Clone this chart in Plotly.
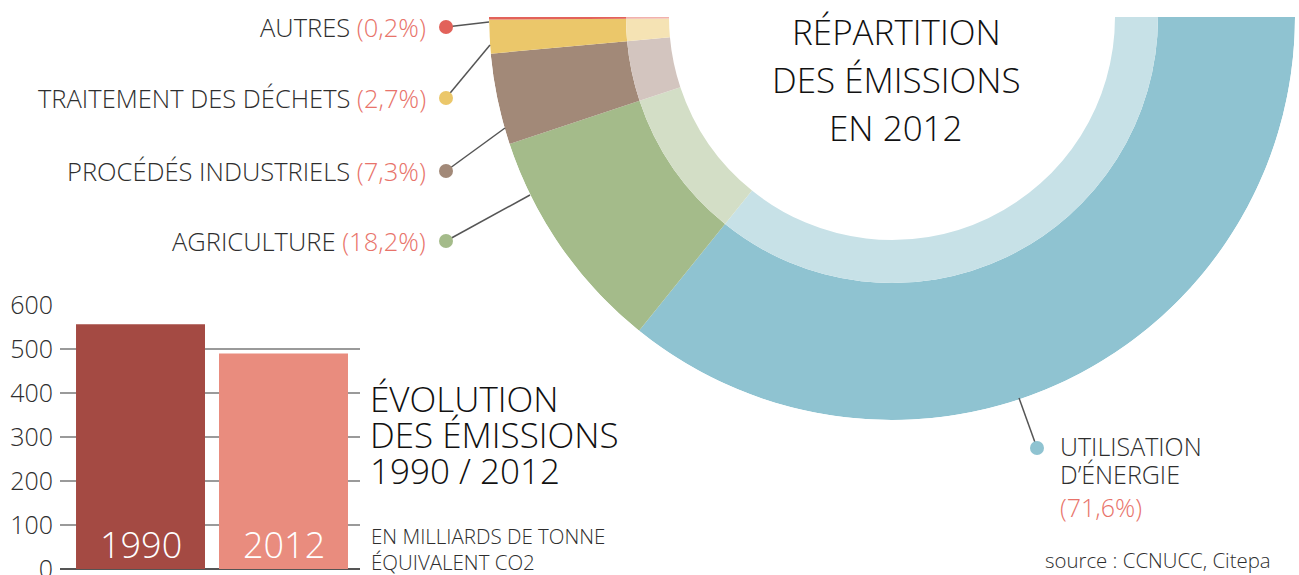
import plotly.graph_objects as go

# ---------------- data ----------------
sectors = ["UTILISATION D’ÉNERGIE", "AGRICULTURE", "PROCÉDÉS INDUSTRIELS",
           "TRAITEMENT DES DÉCHETS", "AUTRES"]
shares = [71.6, 18.2, 7.3, 2.7, 0.2]
share_labels = ["(71,6%)", "(18,2%)", "(7,3%)", "(2,7%)", "(0,2%)"]
dark_colors = ["#8FC3D1", "#A4BB8A", "#A28978", "#EBC76A", "#E2625A"]
light_colors = ["#C7E1E7", "#D3DEC6", "#D3C5BF", "#F5E3B4", "#F1B1AC"]

years = ["1990", "2012"]
emissions = [556, 490]
bar_colors = ["#A44A43", "#E98C7E"]
yticks = [0, 100, 200, 300, 400, 500, 600]

W, H = 1299, 575
FONT = "Open Sans"
SALMON = "#E8736A"
TXT = "#2E2E2E"


def px(x):
    return x / W


def py(y):
    return 1 - y / H


# ---------------- half donut ----------------
cum = []
s = 0
for v in shares:
    cum.append(s)
    s += v
theta = [360 - (c + v / 2) * 1.8 for c, v in zip(cum, shares)]
widths = [v * 1.8 for v in shares]

R_IN, R_MID, R_OUT = 223, 266, 403

fig = go.Figure()
fig.add_trace(go.Barpolar(
    r=[R_OUT - R_MID] * len(shares), base=[R_MID] * len(shares),
    theta=theta, width=widths, marker=dict(color=dark_colors, line=dict(width=0)),
    hoverinfo="skip", showlegend=False))
fig.add_trace(go.Barpolar(
    r=[R_MID - R_IN] * len(shares), base=[R_IN] * len(shares),
    theta=theta, width=widths, marker=dict(color=light_colors, line=dict(width=0)),
    hoverinfo="skip", showlegend=False))

# ---------------- bars ----------------
fig.add_trace(go.Bar(
    x=years, y=emissions, marker=dict(color=bar_colors, line=dict(width=0)),
    width=0.902, xaxis="x", yaxis="y", hoverinfo="skip", showlegend=False))

annotations = []
shapes = []

for i, yr in enumerate(years):
    annotations.append(dict(
        x=i, y=0, xref="x", yref="y", text=yr, showarrow=False,
        yanchor="middle", yshift=25,
        font=dict(family=FONT, size=36, color="white", weight=300)))

# left labels of the donut
label_rows = {"AUTRES": 27, "TRAITEMENT DES DÉCHETS": 98,
              "PROCÉDÉS INDUSTRIELS": 171, "AGRICULTURE": 241}
leader_end = {"AUTRES": (489, 22), "TRAITEMENT DES DÉCHETS": (490, 45),
              "PROCÉDÉS INDUSTRIELS": (505, 128), "AGRICULTURE": (530, 195)}
for name, lab, col in zip(sectors, share_labels, dark_colors):
    if name not in label_rows:
        continue
    yy = label_rows[name]
    annotations.append(dict(
        x=px(428), y=py(yy), xref="paper", yref="paper", xanchor="right",
        yanchor="middle", showarrow=False,
        text=f"{name} <span style='color:{SALMON}'>{lab}</span>",
        font=dict(family=FONT, size=25.5, color=TXT, weight=300)))
    ex, ey = leader_end[name]
    shapes.append(dict(type="line", xref="paper", yref="paper",
                       x0=px(446), y0=py(yy), x1=px(ex), y1=py(ey),
                       line=dict(color="#555555", width=1.5), layer="above"))
    shapes.append(dict(type="circle", xref="paper", yref="paper",
                       x0=px(439), x1=px(453), y0=py(yy - 7), y1=py(yy + 7),
                       fillcolor=col, line=dict(width=0), layer="above"))

# energy label
shapes.append(dict(type="line", xref="paper", yref="paper",
                   x0=px(1037), y0=py(448), x1=px(1019), y1=py(398),
                   line=dict(color="#555555", width=1.5), layer="above"))
shapes.append(dict(type="circle", xref="paper", yref="paper",
                   x0=px(1030), x1=px(1044), y0=py(441), y1=py(455),
                   fillcolor=dark_colors[0], line=dict(width=0), layer="above"))
for txt, yy, col in [("UTILISATION", 446, TXT), ("D’ÉNERGIE", 474, TXT),
                     (share_labels[0], 507, SALMON)]:
    annotations.append(dict(
        x=px(1058), y=py(yy), xref="paper", yref="paper", xanchor="left",
        yanchor="middle", showarrow=False, text=txt,
        font=dict(family=FONT, size=25, color=col, weight=300)))

# donut title
for txt, yy in [("RÉPARTITION", 31), ("DES ÉMISSIONS", 79), ("EN 2012", 127)]:
    annotations.append(dict(
        x=px(896), y=py(yy), xref="paper", yref="paper", xanchor="center",
        yanchor="middle", showarrow=False, text=txt,
        font=dict(family=FONT, size=35, color="#111111", weight=300)))

# bar title
for txt, yy in [("ÉVOLUTION", 398), ("DES ÉMISSIONS", 434), ("1990 / 2012", 470)]:
    annotations.append(dict(
        x=px(368), y=py(yy), xref="paper", yref="paper", xanchor="left",
        yanchor="middle", showarrow=False, text=txt,
        font=dict(family=FONT, size=35, color="#111111", weight=300)))
for txt, yy in [("EN MILLIARDS DE TONNE", 536), ("ÉQUIVALENT CO2", 562)]:
    annotations.append(dict(
        x=px(369), y=py(yy), xref="paper", yref="paper", xanchor="left",
        yanchor="middle", showarrow=False, text=txt,
        font=dict(family=FONT, size=20.5, color=TXT, weight=300)))

annotations.append(dict(
    x=px(1273), y=py(560), xref="paper", yref="paper", xanchor="right",
    yanchor="middle", showarrow=False, text="source : CCNUCC, Citepa",
    font=dict(family=FONT, size=20.4, color=TXT, weight=300)))

fig.update_layout(
    template="none",
    width=W, height=H, margin=dict(l=0, r=0, t=0, b=0, pad=0),
    paper_bgcolor="white", plot_bgcolor="rgba(0,0,0,0)",
    polar=dict(
        domain=dict(x=[px(489), px(1295)], y=[py(420), py(17)]),
        sector=[180, 360], bgcolor="white", hole=0,
        radialaxis=dict(visible=False, range=[0, R_OUT]),
        angularaxis=dict(visible=False, direction="counterclockwise", rotation=0),
    ),
    xaxis=dict(domain=[px(60), px(360)], range=[-0.563, 1.535], type="category",
               showticklabels=False, showgrid=False, zeroline=False, showline=False,
               ticks="", automargin=False, fixedrange=True),
    yaxis=dict(domain=[0, py(305)], range=[-13.6, 600], tickvals=yticks,
               showgrid=True, gridcolor="#9A9A9A", gridwidth=1.5,
               zeroline=True, zerolinecolor="#555555", zerolinewidth=1.5,
               showline=False, ticks="", automargin=False,
               ticklabelstandoff=6, ticklabeloverflow="allow",
               tickfont=dict(family=FONT, size=25, color=TXT, weight=300)),
    annotations=annotations, shapes=shapes,
    showlegend=False,
)

fig.write_html(
    "out.html",
    config={"displayModeBar": False, "staticPlot": True},
    post_script="document.body.style.margin='0';document.body.style.padding='0';"
                "document.documentElement.style.overflow='hidden';",
)
